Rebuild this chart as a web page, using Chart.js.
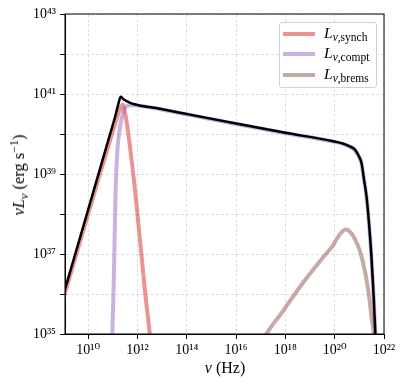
<!DOCTYPE html>
<html>
<head>
<meta charset="utf-8">
<script src="https://cdn.jsdelivr.net/npm/chart.js@4.4.1/dist/chart.umd.min.js"></script>
<style>
body{margin:0;background:#fff;}
#wrap{position:relative;width:407px;height:386px;font-family:"Liberation Serif","DejaVu Serif",serif;color:#000;}
#wrap canvas{position:absolute;left:0;top:0;}
.ytitle{position:absolute;left:19px;top:175px;transform:translate(-50%,-50%) rotate(-90deg);white-space:nowrap;font-size:16.5px;}
.xtitle{position:absolute;left:225px;top:368px;transform:translate(-50%,-50%);white-space:nowrap;font-size:16px;}
.ytitle sub,.ytitle sup{font-size:12px;}
#legend{position:absolute;left:279px;top:22px;width:98px;height:66px;box-sizing:border-box;border:1px solid #d3d3d3;border-radius:3px;background:rgba(255,255,255,0.85);}
.row{position:absolute;left:0;height:20px;width:100%;}
.swatch{position:absolute;left:3px;top:8px;width:32px;height:4px;}
.lab{position:absolute;left:44px;top:1px;font-size:15.5px;line-height:16px;white-space:nowrap;}
.lab sub{font-size:11.5px;vertical-align:-3px;}
sub,sup{line-height:0;}
</style>
</head>
<body>
<div id="wrap">
  <canvas id="chart-section" width="407" height="386"></canvas>
  <div class="ytitle"><i>νL<sub>ν</sub></i> (erg s<sup>−1</sup>)</div>
  <div class="xtitle"><i>ν</i> (Hz)</div>
  <div id="legend"></div>
</div>
<script>
// values, as log10(nu) and log10(nu L_nu)
var synchLogNu = [9.0, 9.5, 10.0, 10.5, 10.92, 11.1, 11.29, 11.4, 11.5, 11.63, 11.9, 12.1, 12.3, 12.5, 12.56];
var synchLogL  = [35.9, 36.95, 38.0, 39.05, 39.9, 40.28, 40.62, 40.73, 40.52, 40.0, 38.6, 37.36, 36.1, 35.0, 34.6];

var comptLogNu = [10.97, 11.0, 11.03, 11.07, 11.11, 11.17, 11.23, 11.29, 11.38, 11.49, 11.7, 11.83, 12.91, 14.0, 16.0, 18.0, 19.94, 20.34, 20.61, 20.82, 20.95, 21.09, 21.19, 21.29, 21.39, 21.49, 21.58, 21.65, 21.68];
var comptLogL  = [34.8, 35.5, 36.1, 37.3, 38.5, 39.45, 39.9, 40.15, 40.45, 40.65, 40.72, 40.72, 40.62, 40.49, 40.25, 40.02, 39.81, 39.75, 39.68, 39.6, 39.47, 39.26, 38.85, 38.43, 37.77, 36.93, 35.93, 35.0, 34.6];

var bremsLogNu = [17.1, 17.23, 17.91, 18.58, 19.26, 19.6, 19.94, 20.1, 20.25, 20.44, 20.6, 20.75, 20.9, 21.02, 21.15, 21.29, 21.4, 21.49, 21.59, 21.62];
var bremsLogL  = [34.85, 35.0, 35.58, 36.17, 36.71, 36.97, 37.22, 37.39, 37.52, 37.61, 37.57, 37.45, 37.27, 37.08, 36.78, 36.36, 35.92, 35.44, 35.0, 34.8];

var totalLogNu = [9.0, 9.5, 10.0, 10.5, 10.9, 11.1, 11.22, 11.32, 11.45, 11.56, 11.83, 12.91, 14.0, 16.0, 18.0, 19.94, 20.34, 20.61, 20.82, 20.95, 21.09, 21.19, 21.29, 21.39, 21.49, 21.58, 21.65, 21.7];
var totalLogL  = [35.99, 37.05, 38.11, 39.17, 40.02, 40.45, 40.74, 40.93, 40.86, 40.82, 40.75, 40.63, 40.5, 40.26, 40.03, 39.82, 39.76, 39.69, 39.61, 39.48, 39.27, 38.86, 38.44, 37.78, 36.94, 35.94, 35.0, 34.4];

var xTickExps = [10, 12, 14, 16, 18, 20, 22];
var yTickExps = [35, 36, 37, 38, 39, 40, 41, 42, 43];
var xMinExp = 9.06, xMaxExp = 22;
var yMinExp = 35, yMaxExp = 43;

var seriesNames = ["synch", "compt", "brems"];
var seriesColors = ["rgba(214,39,40,0.5)", "rgba(148,103,189,0.5)", "rgba(140,86,75,0.5)"];

var FONT = '"Liberation Serif", "DejaVu Serif", serif';
var SUP = {"0":"⁰","1":"¹","2":"²","3":"³","4":"⁴","5":"⁵","6":"⁶","7":"⁷","8":"⁸","9":"⁹","-":"⁻"};

function pts(logNu, logL){
	return logNu.map(function(a, i){ return {x: Math.pow(10, a), y: Math.pow(10, logL[i])}; });
}
function tenTo(v){
	var e = String(Math.round(Math.log10(v)));
	return "10" + e.split("").map(function(c){ return SUP[c]; }).join("");
}

var frame = {
	id: "frame",
	afterDraw: function(chart){
		var a = chart.chartArea, ctx = chart.ctx;
		ctx.save();
		ctx.strokeStyle = "#000";
		ctx.lineWidth = 1;
		ctx.strokeRect(a.left, a.top, a.right - a.left, a.bottom - a.top);
		ctx.restore();
	}
};

function line(label, data, color, width){
	return {
		label: label, data: data, borderColor: color, backgroundColor: color,
		borderWidth: width, pointRadius: 0, fill: false, clip: 0,
		cubicInterpolationMode: "monotone"
	};
}

var ctx = document.getElementById("chart-section").getContext("2d");
// chart.js paints the last dataset first, so the total goes first to end up on top
var chart = new Chart(ctx, {
	type: "line",
	data: {
		datasets: [
			line("total", pts(totalLogNu, totalLogL), "#000", 2.5),
			line("brems", pts(bremsLogNu, bremsLogL), seriesColors[2], 4),
			line("compt", pts(comptLogNu, comptLogL), seriesColors[1], 4),
			line("synch", pts(synchLogNu, synchLogL), seriesColors[0], 4)
		]
	},
	options: {
		responsive: false,
		animation: false,
		parsing: false,
		layout: { padding: { left: 0, right: 23, top: 14, bottom: 0 } },
		plugins: { legend: { display: false }, tooltip: { enabled: false } },
		scales: {
			x: {
				type: "logarithmic",
				min: Math.pow(10, xMinExp), max: Math.pow(10, xMaxExp),
				afterBuildTicks: function(s){ s.ticks = xTickExps.map(function(e){ return {value: Math.pow(10, e)}; }); },
				afterFit: function(s){ s.height = 52; },
				ticks: { autoSkip: false, maxRotation: 0, padding: 3, color: "#000", font: { family: FONT, size: 14 }, callback: function(v){ return tenTo(v); } },
				grid: { color: "rgba(0,0,0,0.12)", tickColor: "#000", tickLength: 5, tickWidth: 1 },
				border: { color: "#000", width: 1, dash: [3, 2] }
			},
			y: {
				type: "logarithmic",
				min: Math.pow(10, yMinExp), max: Math.pow(10, yMaxExp),
				afterBuildTicks: function(s){ s.ticks = yTickExps.map(function(e){ return {value: Math.pow(10, e)}; }); },
				afterFit: function(s){ s.width = 65; },
				ticks: { autoSkip: false, padding: 4, color: "#000", font: { family: FONT, size: 14 },
					callback: function(v){ var e = Math.round(Math.log10(v)); return e % 2 ? tenTo(v) : ""; } },
				grid: { color: "rgba(0,0,0,0.12)", tickColor: "#000", tickLength: 5, tickWidth: 1 },
				border: { color: "#000", width: 1, dash: [3, 2] }
			}
		}
	},
	plugins: [frame]
});

// legend with subscripted labels
var legend = document.getElementById("legend");
var rowCenters = [10.5, 31, 51.5];
seriesNames.forEach(function(name, i){
	var row = document.createElement("div");
	row.className = "row";
	row.style.top = (rowCenters[i] - 10) + "px";
	row.innerHTML = '<div class="swatch" style="background:' + seriesColors[i] + '"></div>' +
		'<div class="lab"><i>L</i><sub><i>ν</i>,' + name + '</sub></div>';
	legend.appendChild(row);
});
</script>
</body>
</html>
